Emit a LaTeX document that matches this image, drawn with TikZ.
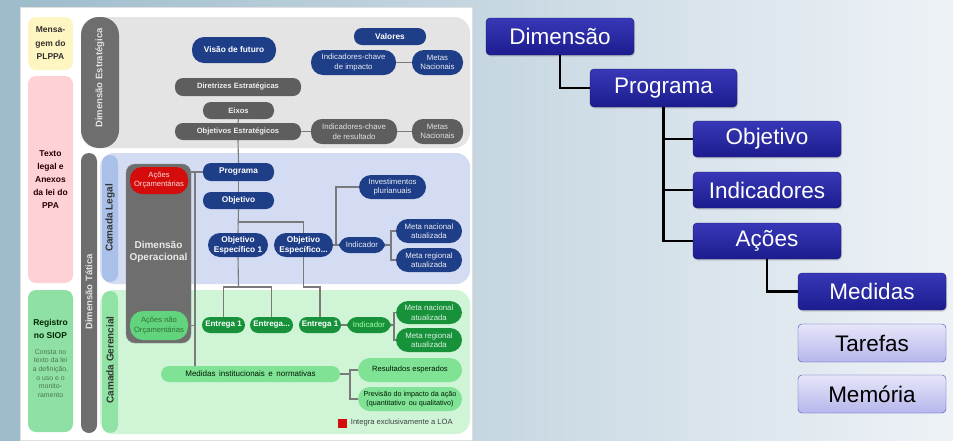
\documentclass[tikz,border=0pt]{standalone}
\usepackage{fontspec}
\setmainfont{Liberation Sans}
\usetikzlibrary{shadows}
\definecolor{bgL}{HTML}{9DBBCB}
\definecolor{bgM}{HTML}{DAE3E9}
\definecolor{bgR}{HTML}{EEF2F7}
\definecolor{navyL}{HTML}{1F3E88}
\definecolor{grayN}{HTML}{5E5E5E}
\definecolor{stratP}{HTML}{E4E4E4}
\definecolor{blueP}{HTML}{D3DCF2}
\definecolor{greenP}{HTML}{CFF5D6}
\definecolor{yellowB}{HTML}{FDF6C3}
\definecolor{pinkB}{HTML}{FDD1D5}
\definecolor{greenB}{HTML}{8FE0A5}
\definecolor{legalPill}{HTML}{A9C0E8}
\definecolor{gerPill}{HTML}{90E3A4}
\definecolor{dimPill}{HTML}{6E6E6E}
\definecolor{redN}{HTML}{D40C0C}
\definecolor{anoN}{HTML}{62D47E}
\definecolor{dgreenN}{HTML}{17923A}
\definecolor{lgreenN}{HTML}{7FE295}
\definecolor{connC}{HTML}{7A7A7A}
\definecolor{rTop}{HTML}{3838B8}
\definecolor{rBot}{HTML}{1C1C8E}
\definecolor{rEdge}{HTML}{16166E}
\definecolor{lTop}{HTML}{E6E6FA}
\definecolor{lBot}{HTML}{B6B6EC}
\definecolor{lEdge}{HTML}{4444B0}
\newcommand\bx[7]{\node[#2,minimum width={#5-#3},minimum height={#6-#4}] (#1) at ({(#3+#5)/2},{(#4+#6)/2}) {#7};}
\tikzset{
  basebox/.style={rectangle, inner sep=0pt, align=center},
  navyn/.style={basebox, fill=navyL, text=white, rounded corners=8pt, font=\fontsize{8.3}{10}\selectfont\bfseries},
  navyr/.style={basebox, fill=navyL, text=white!90!navyL, rounded corners=10pt, font=\fontsize{7.8}{9.5}\selectfont},
  grayn/.style={basebox, fill=grayN, text=white!90!grayN, rounded corners=8pt, font=\fontsize{7.6}{9}\selectfont\bfseries},
  grayr/.style={basebox, fill=grayN, text=white!80!grayN, rounded corners=11pt, font=\fontsize{7.8}{9.5}\selectfont},
  dgreenn/.style={basebox, fill=dgreenN, text=white, rounded corners=8pt, font=\fontsize{8}{9.5}\selectfont\bfseries},
  dgreenr/.style={basebox, fill=dgreenN, text=white!85!dgreenN, rounded corners=10pt, font=\fontsize{7.8}{9.5}\selectfont},
  lgreenr/.style={basebox, fill=lgreenN, text=black!75!green!40!black, rounded corners=11pt, font=\fontsize{7.6}{9.5}\selectfont},
  vlabel/.style={rotate=90, font=\fontsize{9.5}{10}\selectfont\bfseries},
  conn/.style={draw=connC, line width=1.1pt},
  rconn/.style={draw=black, line width=2.4pt},
  rbox/.style={basebox, top color=rTop, bottom color=rBot, draw=rEdge, rounded corners=4pt, text=white, font=\fontsize{22.5}{26}\selectfont, drop shadow={opacity=0.3, shadow xshift=1pt, shadow yshift=-1.5pt}},
  lbox/.style={basebox, top color=lTop, bottom color=lBot, draw=lEdge, rounded corners=4pt, text=black, font=\fontsize{22.5}{26}\selectfont}
}
\begin{document}
\begin{tikzpicture}[x=1pt,y=-1pt]
\useasboundingbox (0,0) rectangle (953,440);
\shade[left color=bgL, middle color=bgM, right color=bgR] (0,0) rectangle (953,440);
\fill[white] (20,7) rectangle (472,440);
\draw[black!12] (20,7) rectangle (472,440);

% panels
\fill[stratP, rounded corners=16pt] (81,17) rectangle (470,148);
\fill[blueP, rounded corners=14pt] (100,153) rectangle (470,284);
\fill[greenP, rounded corners=14pt] (100,290) rectangle (470,434);

% left column
\bx{msg}{basebox, fill=yellowB, rounded corners=8pt, text=black!80!yellow!40!black, font=\fontsize{8.5}{13.5}\selectfont\bfseries}{28}{17}{73}{70}{Mensa-\\gem do\\PLPPA}
\bx{txt}{basebox, fill=pinkB, rounded corners=8pt}{28}{76}{73}{283}{}
\node[align=center, text=black!85!red, font=\fontsize{8.5}{13}\selectfont\bfseries, anchor=north] (txtl) at (50.5,147) {Texto\\legal e\\Anexos\\da lei do\\PPA};
\bx{reg}{basebox, fill=greenB, rounded corners=8pt}{28}{290}{73}{432}{}
\node[align=center, text=black!85!green, font=\fontsize{8.5}{13}\selectfont\bfseries, anchor=north] (regl) at (50.5,316) {Registro\\no SIOP};
\node[align=center, text=green!25!black!70, font=\fontsize{6.9}{8.6}\selectfont, anchor=north] (regs) at (50.5,346) {Consta no\\texto da lei\\a definição,\\o uso e o\\monito-\\ramento};

% vertical pills
\bx{dest}{basebox, fill=dimPill, rounded corners=18pt}{81}{17}{119}{148}{}
\node[vlabel, text=white!80!dimPill] (destl) at (100,78) {Dimensão Estratégica};
\bx{dtat}{basebox, fill=dimPill, rounded corners=8pt}{81}{153}{97}{433}{}
\node[vlabel, text=white!80!dimPill] (dtatl) at (89,292) {Dimensão Tática};
\bx{clegal}{basebox, fill=legalPill, rounded corners=8pt}{102}{155}{118}{282}{}
\node[vlabel, font=\fontsize{10}{10}\selectfont\bfseries, text=black!80] (clegall) at (110,218) {Camada Legal};
\bx{cger}{basebox, fill=gerPill, rounded corners=8pt}{102}{291}{118}{433}{}
\node[vlabel, font=\fontsize{10}{10}\selectfont\bfseries, text=black!80] (cgerl) at (110,360) {Camada Gerencial};

% dimensão operacional
\bx{dimop}{basebox, fill=dimPill, draw=black!45, rounded corners=9pt}{126}{164}{191}{343}{}
\node[align=center, text=white!85!dimPill, font=\fontsize{10}{12.5}\selectfont\bfseries] (dimopl) at (158.5,252) {Dimensão\\Operacional};
\bx{aorc}{basebox, fill=redN, text=white!85!redN, rounded corners=12pt, font=\fontsize{7.6}{9}\selectfont}{130}{167}{188}{194}{Ações\\Orçamentárias}
\bx{anorc}{basebox, fill=anoN, text=green!30!black!80, rounded corners=13pt, font=\fontsize{7.6}{9.5}\selectfont}{130}{311}{188}{340}{Ações não\\Orçamentárias}

% strategic
\bx{visao}{navyn, rounded corners=12pt}{192}{37}{276}{63}{Visão de futuro}
\bx{valores}{navyn}{354}{28}{426}{45}{Valores}
\bx{iimp}{navyr, rounded corners=12pt}{311}{50}{396}{75}{Indicadores-chave\\de impacto}
\bx{mnac}{navyr, rounded corners=12pt}{412}{50}{463}{75}{Metas\\Nacionais}
\bx{diret}{grayn}{175}{78}{301}{96}{Diretrizes Estratégicas}
\bx{eixos}{grayn}{203}{102}{274}{119}{Eixos}
\bx{objest}{grayn}{175}{123}{301}{140}{Objetivos Estratégicos}
\bx{ires}{grayr}{311}{119}{397}{144}{Indicadores-chave\\de resultado}
\bx{mnacr}{grayr}{412}{119}{463}{144}{Metas\\Nacionais}

% legal layer
\bx{prog}{navyn}{203}{163}{274}{181}{Programa}
\bx{obj}{navyn}{203}{192}{274}{209}{Objetivo}
\bx{oe1}{navyn, rounded corners=12pt}{208}{233}{268}{257}{Objetivo\\Específico 1}
\bx{oe2}{navyn, rounded corners=12pt}{274}{233}{333}{257}{Objetivo\\Específico...}
\bx{ind1}{navyr}{339}{237}{385}{253}{Indicador}
\bx{inv}{navyr, rounded corners=12pt}{359}{175}{426}{199}{Investimentos\\plurianuais}
\bx{mn1}{navyr, rounded corners=12pt}{396}{219}{462}{243}{Meta nacional\\atualizada}
\bx{mr1}{navyr, rounded corners=12pt}{396}{248}{462}{272}{Meta regional\\atualizada}

% managerial layer
\bx{e1}{dgreenn}{202}{317}{245}{333}{Entrega 1}
\bx{e2}{dgreenn}{250}{317}{293}{333}{Entrega...}
\bx{e3}{dgreenn}{299}{317}{341}{333}{Entrega 1}
\bx{ind2}{dgreenr, text=green!35!white}{347}{317}{391}{333}{Indicador}
\bx{mn2}{dgreenr, rounded corners=12pt}{396}{301}{462}{324}{Meta nacional\\atualizada}
\bx{mr2}{dgreenr, rounded corners=12pt}{396}{328}{462}{352}{Meta regional\\atualizada}
\bx{med}{lgreenr, font=\fontsize{8}{9.5}\selectfont, rounded corners=8pt}{161}{366}{340}{382}{Medidas\, institucionais\, e\, normativas}
\bx{res}{lgreenr, rounded corners=12pt}{358}{358}{462}{382}{Resultados esperados}
\bx{prev}{lgreenr, font=\fontsize{7.2}{9.5}\selectfont, rounded corners=12pt}{358}{387}{462}{411}{Previsão do impacto da ação\\(quantitativo\, ou qualitativo)}
\node[fill=redN, minimum size=9pt, inner sep=0pt] (leg) at (342,423) {};
\node[anchor=west, text=black!75, font=\fontsize{7.6}{9}\selectfont, inner sep=0pt] (legt) at ([xshift=4pt]leg.east) {Integra exclusivamente a LOA};

% left connectors
\coordinate (vx) at (195,172);
\coordinate (j1) at (238.5,222);
\coordinate (j2) at (238.5,287);
\coordinate (j4) at (336,245);
\coordinate (j5) at (391,245);
\coordinate (j6) at (394,325);
\coordinate (j7) at (350,374);
\draw[conn] (iimp.east) -- (mnac.west);
\draw[conn] (objest.east) -- (ires.west);
\draw[conn] (ires.east) -- (mnacr.west);
\draw[conn] (eixos.south) -- (objest.north);
\draw[conn] (objest.south) -- (prog.north);
\draw[conn] (prog.south) -- (obj.north);
\draw[conn] (obj.south) -- (oe1.north);
\draw[conn] (j1) -| (oe2.north);
\draw[conn] (dimop.east |- prog.west) -- (prog.west);
\draw[conn] (vx) -- (vx |- med.north);
\draw[conn] (anorc.east) -- (vx |- anorc.east);
\draw[conn] (oe1.south) -- (j2);
\draw[conn] (e1.north) |- (j2) -| (e2.north);
\draw[conn] (oe2.south) -- (oe2.south |- j2) -| (e3.north);
\draw[conn] (oe2.east) -- (ind1.west);
\draw[conn] (j4) |- (inv.west);
\draw[conn] (ind1.east) -- (j5);
\draw[conn] (mn1.west) -| (j5) |- (mr1.west);
\draw[conn] (e3.east) -- (ind2.west);
\draw[conn] (ind2.east) -- (j6);
\draw[conn] (mn2.west) -| (j6) |- (mr2.west);
\draw[conn] (med.east) -- (j7);
\draw[conn] (res.west) -| (j7) |- (prev.west);

% right tree
\bx{rdim}{rbox}{486}{18}{634}{55}{Dimensão}
\bx{rprog}{rbox}{590}{69}{737}{107}{Programa}
\bx{robj}{rbox}{693}{121}{841}{157}{Objetivo}
\bx{rind}{rbox}{693}{172}{841}{208}{Indicadores}
\bx{racoes}{rbox}{693}{223}{841}{259}{Ações}
\bx{rmed}{rbox}{798}{273}{946}{310}{Medidas}
\bx{rtar}{lbox}{798}{324}{946}{362}{Tarefas}
\bx{rmem}{lbox}{798}{375}{946}{413}{Memória}
\draw[rconn] (rdim.south) |- (rprog.west);
\draw[rconn] (rprog.south) |- (robj.west);
\draw[rconn] (rprog.south) |- (rind.west);
\draw[rconn] (rprog.south) |- (racoes.west);
\draw[rconn] (racoes.south) |- (rmed.west);
\end{tikzpicture}
\end{document}
